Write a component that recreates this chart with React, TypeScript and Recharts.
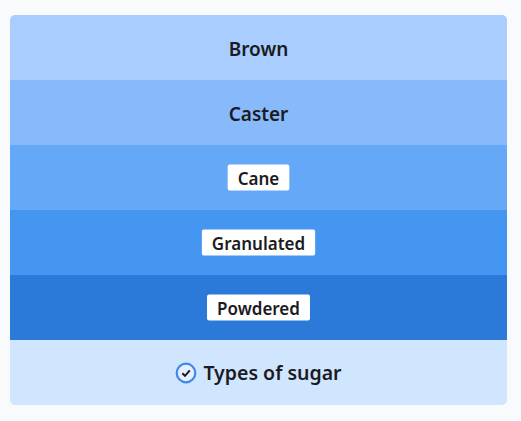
import { useLayoutEffect, useRef, useState } from "react";
import { BarChart, Bar, XAxis, YAxis, Cell, LabelList } from "recharts";

const sugarTypes = ["Brown", "Caster", "Cane", "Granulated", "Powdered"];
const shares = [1, 1, 1, 1, 1];
const bandColors = ["#a9cdfe", "#87b9fb", "#66a8f8", "#4596f1", "#2b7ad9"];
const boxedFrom = 2; // labels on darker bands get a white chip
const footerTitle = "Types of sugar";

const data = sugarTypes.map((name, i) => ({ name, value: shares[i] }));

const FONT = "'Noto Sans', 'Open Sans', sans-serif";

function BandLabel(props: any) {
  const { x, y, width, height, index, value } = props;
  const textRef = useRef<SVGTextElement>(null);
  const [textW, setTextW] = useState(0);

  useLayoutEffect(() => {
    if (textRef.current) setTextW(textRef.current.getBBox().width);
  }, [value]);

  const cx = x + width / 2;
  const cy = y + height / 2;
  const boxed = index >= boxedFrom;
  const fontSize = boxed ? 17 : 19;

  return (
    <g>
      {boxed && textW > 0 && (
        <rect
          x={cx - textW / 2 - 10}
          y={cy - 13}
          width={textW + 20}
          height={26}
          rx={2}
          fill="#ffffff"
        />
      )}
      <text
        ref={textRef}
        x={cx}
        y={cy + 1}
        textAnchor="middle"
        dominantBaseline="central"
        fontFamily={FONT}
        fontWeight={600}
        fontSize={fontSize}
        fill="#1c1b22"
      >
        {value}
      </text>
    </g>
  );
}

export default function App() {
  return (
    <div style={{ position: "fixed", inset: 0, background: "#f8fafc" }}>
      <div
        style={{
          position: "absolute",
          left: 10,
          top: 15,
          width: 497,
          borderRadius: 5,
          overflow: "hidden",
        }}
      >
        <BarChart
          width={497}
          height={325}
          data={data}
          layout="vertical"
          margin={{ top: 0, right: 0, bottom: 0, left: 0 }}
          barCategoryGap={0}
        >
          <XAxis type="number" hide domain={[0, 1]} />
          <YAxis type="category" dataKey="name" hide />
          <Bar dataKey="value" isAnimationActive={false}>
            {data.map((d, i) => (
              <Cell key={d.name} fill={bandColors[i]} />
            ))}
            <LabelList dataKey="name" content={<BandLabel />} />
          </Bar>
        </BarChart>
        <div
          style={{
            height: 65,
            background: "#d0e6fe",
            display: "flex",
            alignItems: "center",
            justifyContent: "center",
            gap: 6,
            fontFamily: FONT,
            fontWeight: 600,
            fontSize: 19.5,
            color: "#1c1b22",
          }}
        >
          <svg width={22} height={22} viewBox="0 0 22 22">
            <circle cx={11} cy={11} r={9.3} fill="#e4efff" stroke="#3f87ea" strokeWidth={2.2} />
            <path d="M7.3 11.2 L10 13.8 L14.8 8.4" fill="none" stroke="#1c1b22" strokeWidth={2} />
          </svg>
          <span>{footerTitle}</span>
        </div>
      </div>
    </div>
  );
}
